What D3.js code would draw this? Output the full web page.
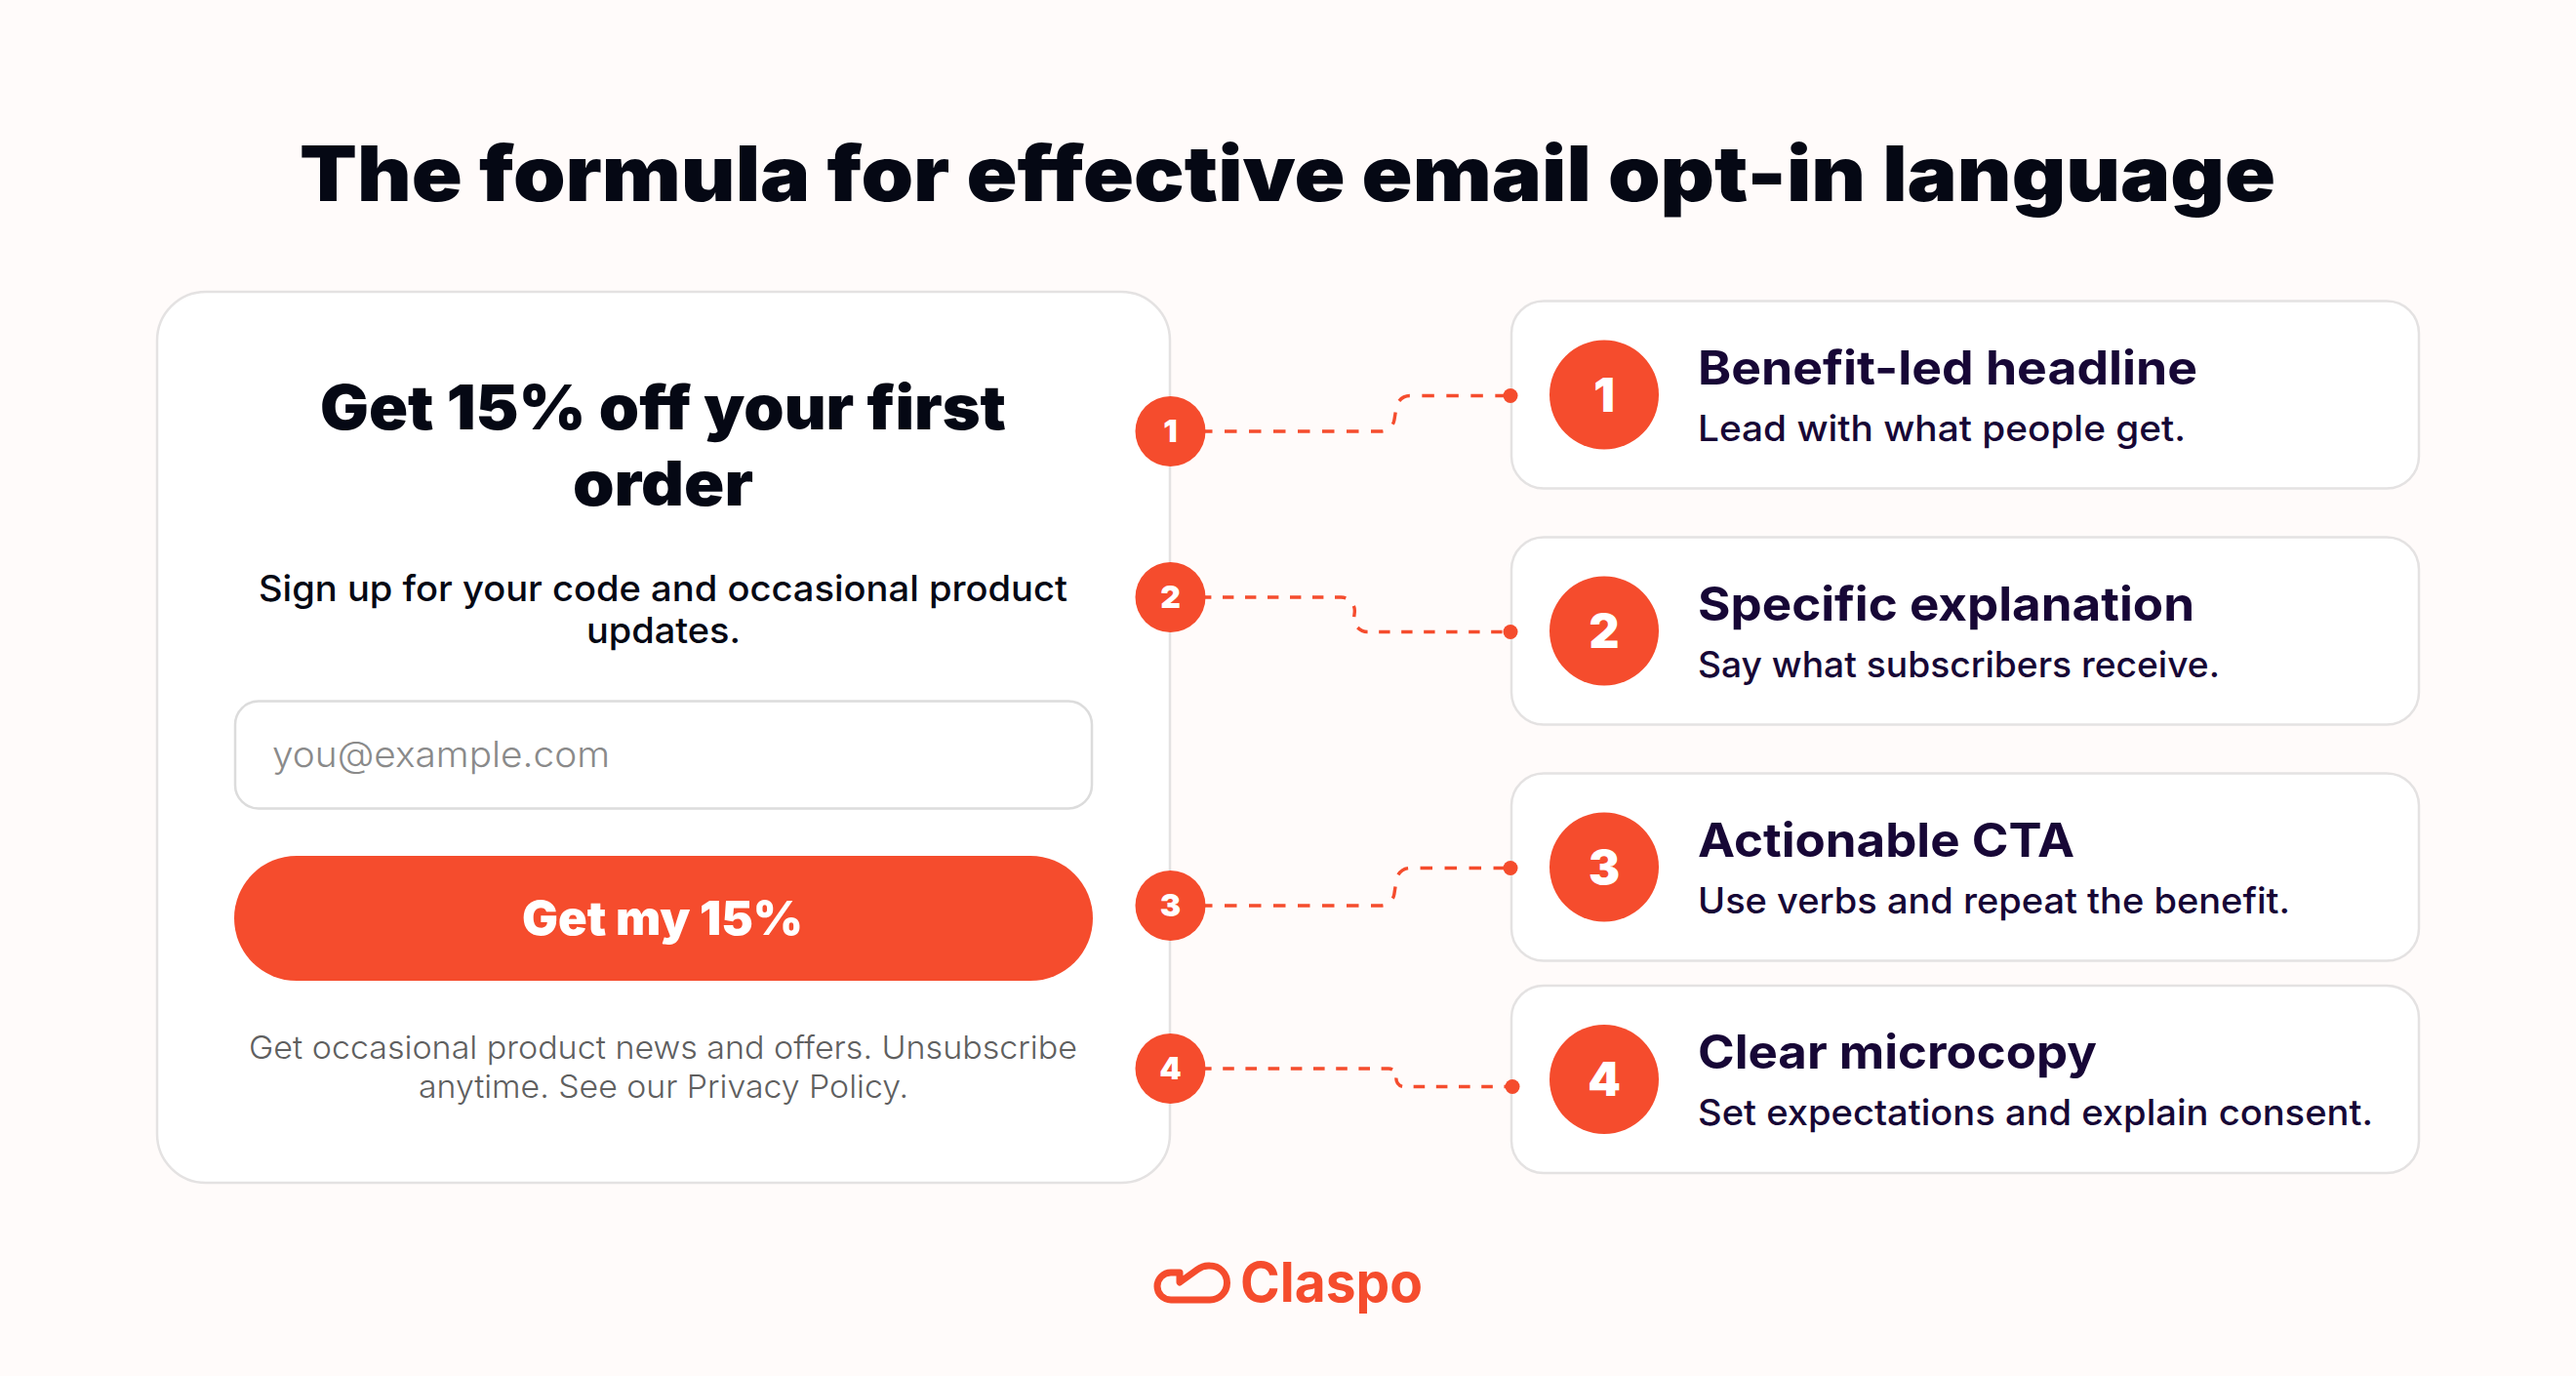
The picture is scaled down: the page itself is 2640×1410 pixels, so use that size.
<!DOCTYPE html>
<html>
<head>
<meta charset="utf-8">
<title>The formula for effective email opt-in language</title>
<style>
  html, body { margin: 0; padding: 0; background: #fffbfa; }
  svg { display: block; }
</style>
</head>
<body>
<div id="chart"></div>
<script src="https://cdn.jsdelivr.net/npm/d3@7"></script>
<script>
// content
var chartTitle = "The formula for effective email opt-in language";
var formHeading = ["Get 15% off your first", "order"];
var formIntro = ["Sign up for your code and occasional product", "updates."];
var formPlaceholder = "you@example.com";
var formButton = "Get my 15%";
var formNote = ["Get occasional product news and offers. Unsubscribe", "anytime. See our Privacy Policy."];
var steps = ["1", "2", "3", "4"];
var stepTitles = ["Benefit-led headline", "Specific explanation", "Actionable CTA", "Clear microcopy"];
var stepNotes = [
  "Lead with what people get.",
  "Say what subscribers receive.",
  "Use verbs and repeat the benefit.",
  "Set expectations and explain consent."
];
var brand = "Claspo";

var w = 2640, h = 1410;
var orange = "#f54c2d", ink = "#050814", plum = "#170736", line = "#e4e2e2";
var font = "Inter, 'Open Sans', sans-serif";

// where each step lands on the page
var cardTop = d3.scaleOrdinal().domain(steps).range([308.5, 550.5, 792.5, 1010]);
var badgeY = d3.scaleOrdinal().domain(steps).range([442, 612, 928, 1095]);
var dotY = d3.scaleOrdinal().domain(steps).range([405.5, 647.5, 889.5, 1113.5]);
var dotX = d3.scaleOrdinal().domain(steps).range([1548, 1548, 1548, 1550]);
var elbowX = d3.scaleOrdinal().domain(steps).range([1430, 1388, 1430, 1431]);
var elbowR = d3.scaleOrdinal().domain(steps).range([14, 14, 14, 8]);
var dash = d3.scaleOrdinal().domain(steps).range(["12.5 12.5", "11.4 11.6", "12.5 12.5", "11.6 11.6"]);
var titleEnd = d3.scaleOrdinal().domain(steps).range([2252, 2249, 2126, 2149]);
var noteEnd = d3.scaleOrdinal().domain(steps).range([2240, 2275, 2347, 2432]);

var svg = d3.select("#chart").append("svg")
  .attr("width", w)
  .attr("height", h)
  .attr("viewBox", "0 0 " + w + " " + h);

svg.append("rect").attr("width", w).attr("height", h).attr("fill", "#fffbfa");

// text squeezed to the measured run, the original face is wider than anything installed
function label(parent, str, x0, x1, y, size, weight, fill) {
  return parent.append("text")
    .text(str)
    .attr("x", x0)
    .attr("y", y)
    .attr("textLength", x1 - x0)
    .attr("lengthAdjust", "spacingAndGlyphs")
    .attr("font-family", font)
    .attr("font-size", size)
    .attr("font-weight", weight)
    .attr("fill", fill);
}

label(svg, chartTitle, 307, 2332, 206, 78, 900, ink);

// form card
svg.append("rect")
  .attr("x", 161).attr("y", 299).attr("width", 1038).attr("height", 913)
  .attr("rx", 50)
  .attr("fill", "#fff").attr("stroke", line).attr("stroke-width", 2.5);

label(svg, formHeading[0], 328, 1031, 440, 63, 900, ink);
label(svg, formHeading[1], 587, 772, 518, 63, 900, ink);
label(svg, formIntro[0], 265, 1094, 616, 37, 450, ink);
label(svg, formIntro[1], 601, 759, 659, 37, 450, ink);

svg.append("rect")
  .attr("x", 241).attr("y", 718.5).attr("width", 878).attr("height", 110)
  .attr("rx", 24)
  .attr("fill", "#fff").attr("stroke", "#dcdcdc").attr("stroke-width", 2.5);
label(svg, formPlaceholder, 279, 625, 786, 37, 300, "#8a8a8a");

svg.append("rect")
  .attr("x", 240).attr("y", 877).attr("width", 880).attr("height", 128)
  .attr("rx", 64)
  .attr("fill", orange);
label(svg, formButton, 535, 823, 958, 48, 900, "#fff");

label(svg, formNote[0], 255, 1104, 1085, 33, 350, "#5f5f5f");
label(svg, formNote[1], 429, 931, 1125, 33, 350, "#5f5f5f");

// step cards
var cards = svg.selectAll("g.card")
  .data(steps)
  .enter()
  .append("g")
  .attr("class", "card");

cards.append("rect")
  .attr("x", 1549)
  .attr("y", function(d) { return cardTop(d); })
  .attr("width", 930)
  .attr("height", 192)
  .attr("rx", 33)
  .attr("fill", "#fff")
  .attr("stroke", line)
  .attr("stroke-width", 2.5);

cards.append("circle")
  .attr("cx", 1644)
  .attr("cy", function(d) { return cardTop(d) + 96; })
  .attr("r", 56)
  .attr("fill", orange);

cards.append("text")
  .text(function(d) { return d; })
  .attr("x", 1644)
  .attr("y", function(d) { return cardTop(d) + 113; })
  .attr("text-anchor", "middle")
  .attr("font-family", font)
  .attr("font-size", 48)
  .attr("font-weight", 900)
  .attr("fill", "#fff");

cards.each(function(d, i) {
  var g = d3.select(this);
  label(g, stepTitles[i], 1740, titleEnd(d), cardTop(d) + 85, 48, 700, plum);
  label(g, stepNotes[i], 1740, noteEnd(d), cardTop(d) + 143, 37, 450, plum);
});

// connectors, rounded elbow between badge and dot
function connector(d) {
  var p = d3.path(), y0 = badgeY(d), y1 = dotY(d), x = elbowX(d), r = elbowR(d), lean = y1 < y0 ? 3 : -2;
  p.moveTo(1230, y0);
  p.arcTo(x - lean, y0, x, (y0 + y1) / 2, r);
  p.arcTo(x + lean, y1, dotX(d), y1, r);
  p.lineTo(dotX(d), y1);
  return p.toString();
}

svg.selectAll("path.link")
  .data(steps)
  .enter()
  .append("path")
  .attr("class", "link")
  .attr("d", connector)
  .attr("fill", "none")
  .attr("stroke", orange)
  .attr("stroke-width", 3.4)
  .attr("stroke-dasharray", function(d) { return dash(d); });

svg.selectAll("circle.dot")
  .data(steps)
  .enter()
  .append("circle")
  .attr("class", "dot")
  .attr("cx", function(d) { return dotX(d); })
  .attr("cy", function(d) { return dotY(d); })
  .attr("r", 7.5)
  .attr("fill", orange);

// badges on the form card edge
var badges = svg.selectAll("g.badge")
  .data(steps)
  .enter()
  .append("g")
  .attr("class", "badge");

badges.append("circle")
  .attr("cx", 1199.5)
  .attr("cy", function(d) { return badgeY(d); })
  .attr("r", 36)
  .attr("fill", orange);

badges.append("text")
  .text(function(d) { return d; })
  .attr("x", 1199.5)
  .attr("y", function(d) { return badgeY(d) + 11; })
  .attr("text-anchor", "middle")
  .attr("font-family", font)
  .attr("font-size", 32)
  .attr("font-weight", 900)
  .attr("fill", "#fff");

// logo
svg.append("path")
  .attr("d", "M1209 1304 H1200 A14 14 0 0 0 1200 1332 H1240 A17.5 17.5 0 0 0 1240 1297 C1235 1296.5 1231 1298 1227 1301 L1209 1314 Z")
  .attr("fill", "none")
  .attr("stroke", orange)
  .attr("stroke-width", 7)
  .attr("stroke-linejoin", "round");

label(svg, brand, 1271, 1458, 1334, 56, 700, orange);
</script>
</body>
</html>
